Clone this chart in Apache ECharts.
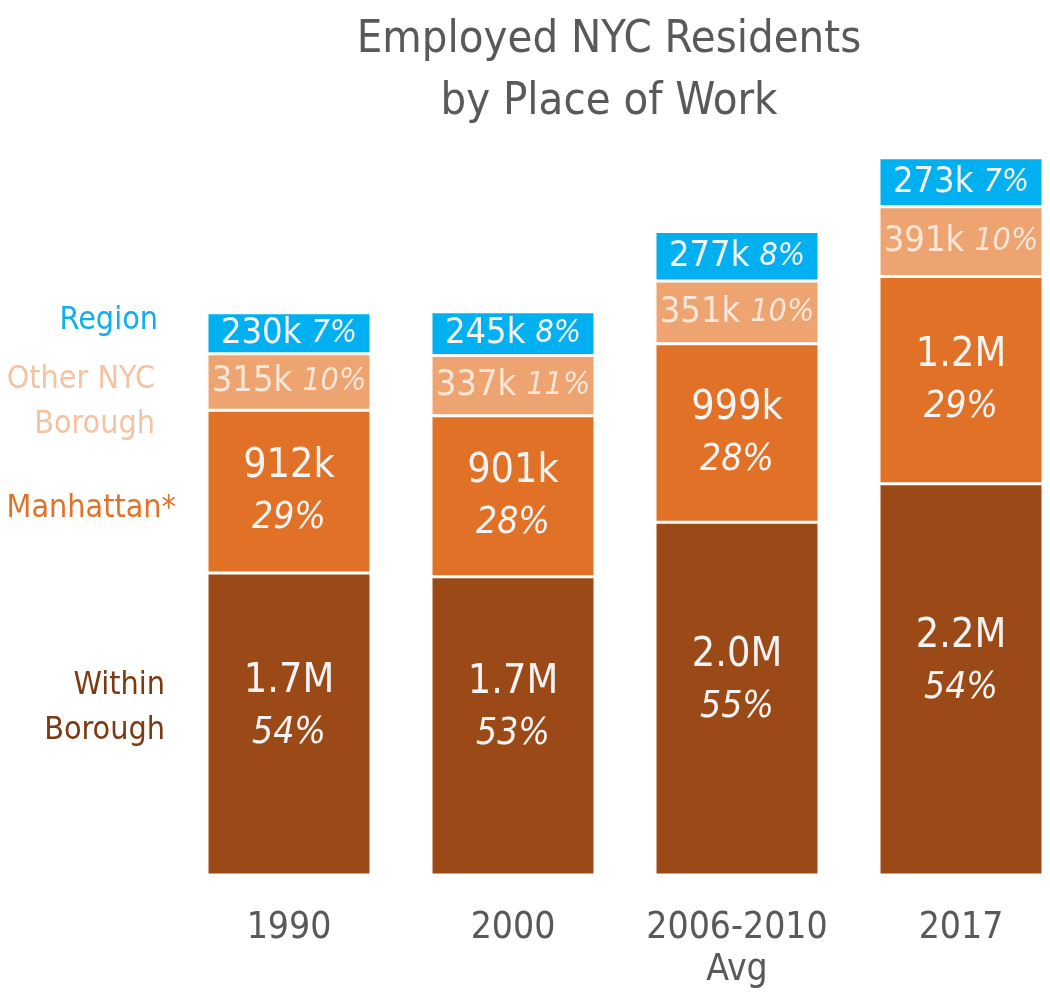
<!DOCTYPE html>
<html>
<head>
<meta charset="utf-8">
<script src="https://cdn.jsdelivr.net/npm/echarts@6/dist/echarts.min.js"></script>
<style>
  html, body { margin: 0; padding: 0; background: #fff; }
  #chart { width: 1050px; height: 994px; }
</style>
</head>
<body>
<div id="chart"></div>
<script>
// data (thousands of workers)
var categories = ['1990', '2000', '2006-2010\nAvg', '2017'];
var withinBorough = [1690, 1670, 1975, 2190];
var manhattan = [912, 901, 999, 1160];
var otherBorough = [315, 337, 351, 391];
var region = [230, 245, 277, 273];

var withinText = ['1.7M', '1.7M', '2.0M', '2.2M'];
var withinPct = ['54%', '53%', '55%', '54%'];
var manhattanText = ['912k', '901k', '999k', '1.2M'];
var manhattanPct = ['29%', '28%', '28%', '29%'];
var otherText = ['315k', '337k', '351k', '391k'];
var otherPct = ['10%', '11%', '10%', '10%'];
var regionText = ['230k', '245k', '277k', '273k'];
var regionPct = ['7%', '8%', '8%', '7%'];

var FONT = "'Liberation Sans Narrow', 'Arial Narrow', 'DejaVu Sans Condensed', sans-serif";

var chart = echarts.init(document.getElementById('chart'));

function bigLabel(texts, pcts, dy) {
    return {
        show: true,
        position: 'inside',
        offset: [0, dy],
        formatter: function (p) {
            return '{v|' + texts[p.dataIndex] + '}\n{p|' + pcts[p.dataIndex] + '}';
        },
        rich: {
            v: { fontFamily: FONT, fontSize: 41, color: '#f4f4f4', lineHeight: 54 },
            p: { fontFamily: FONT, fontSize: 37, fontStyle: 'italic', color: '#f4f4f4', lineHeight: 50 }
        }
    };
}

function smallLabel(texts, pcts, col) {
    return {
        show: true,
        position: 'inside',
        formatter: function (p) {
            return '{v|' + texts[p.dataIndex] + '}{p|' + pcts[p.dataIndex] + '}';
        },
        rich: {
            v: { fontFamily: FONT, fontSize: 36, color: col },
            p: { fontFamily: FONT, fontSize: 32, fontStyle: 'italic', color: col, padding: [0, 0, 0, 10] }
        }
    };
}

function bar(name, data, color, label) {
    return {
        name: name,
        type: 'bar',
        stack: 'total',
        barWidth: 164,
        clip: false,
        data: data,
        itemStyle: { color: color, borderColor: '#fff', borderWidth: 1.5 },
        label: label,
        emphasis: { disabled: true }
    };
}

var legendItems = [
    { text: 'Region', x: 158, y: 321, color: '#0fb0ea' },
    { text: 'Other NYC\nBorough', x: 155, y: 402, color: '#f4c3a4' },
    { text: 'Manhattan*', x: 176, y: 509, color: '#e07126' },
    { text: 'Within\nBorough', x: 165, y: 708, color: '#7b3a12' }
];

var option = {
    backgroundColor: '#fff',
    animation: false,
    title: {
        text: 'Employed NYC Residents\nby Place of Work',
        left: 604,
        top: 4,
        textAlign: 'center',
        textStyle: { fontFamily: FONT, fontSize: 45, fontWeight: 'normal', color: '#595959', lineHeight: 62 }
    },
    grid: { left: 177, width: 896, top: 155, bottom: 119, containLabel: false, outerBoundsMode: 'none' },
    xAxis: {
        type: 'category',
        data: categories,
        axisLine: { show: false },
        axisTick: { show: false },
        axisLabel: {
            margin: 32,
            fontFamily: FONT,
            fontSize: 37,
            color: '#595959',
            lineHeight: 42,
            interval: 0
        }
    },
    yAxis: {
        type: 'value',
        min: 0,
        max: 4030,
        show: false,
        splitLine: { show: false }
    },
    graphic: legendItems.map(function (it) {
        return {
            type: 'text',
            x: it.x,
            y: it.y,
            style: {
                text: it.text,
                fill: it.color,
                font: '32px ' + FONT,
                textAlign: 'right',
                textVerticalAlign: 'middle',
                lineHeight: 45
            }
        };
    }),
    series: [
        bar('Within Borough', withinBorough, '#9b4a17', bigLabel(withinText, withinPct, -18)),
        bar('Manhattan*', manhattan, '#e07126', bigLabel(manhattanText, manhattanPct, 0)),
        bar('Other NYC Borough', otherBorough, '#eda471', smallLabel(otherText, otherPct, '#fbe6d8')),
        bar('Region', region, '#00b0f0', smallLabel(regionText, regionPct, '#f4f4f4'))
    ]
};

chart.setOption(option);
</script>
</body>
</html>
